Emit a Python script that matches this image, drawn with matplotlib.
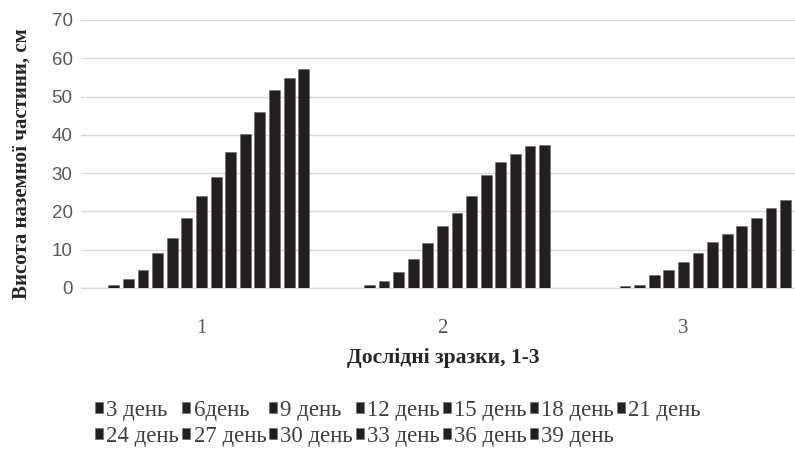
import matplotlib
matplotlib.use("Agg")
import matplotlib.pyplot as plt
import numpy as np

categories = ["1", "2", "3"]
series_labels = ["_s0", "_s1", "3 день", "6день", "9 день", "12 день", "15 день",
                 "18 день", "21 день", "24 день", "27 день", "30 день", "33 день",
                 "36 день", "39 день"]
sample1 = [0, 0.9, 2.3, 4.8, 9.1, 13.0, 18.3, 24.1, 28.9, 35.6, 40.3, 46.1, 51.8, 54.9, 57.1]
sample2 = [0, 0, 0.8, 1.8, 4.3, 7.7, 11.7, 16.1, 19.7, 23.9, 29.6, 32.8, 34.9, 37.0, 37.4]
sample3 = [0, 0, 0, 0.45, 0.8, 3.3, 4.8, 6.7, 9.2, 11.9, 14.0, 16.2, 18.3, 20.9, 23.0]
yticks = [0, 10, 20, 30, 40, 50, 60, 70]

plt.rcParams['font.family'] = ['Liberation Serif', 'DejaVu Serif']

W, H = 795, 454
fig = plt.figure(figsize=(W / 100, H / 100), dpi=100)
ax = fig.add_axes([81 / W, 1 - 288 / H, 1 - 81 / W, (288 - 20) / H])

data = np.array([sample1, sample2, sample3])  # groups x series
n = len(series_labels)
slot = 0.0606
bw = 0.045
x = np.arange(1, len(categories) + 1)
handles, labels = [], []
for i in range(n):
    offs = (i - (n - 1) / 2) * slot
    b = ax.bar(x + offs, data[:, i], width=bw, color='#231f20',
               edgecolor='#6a6a6a', linewidth=0.4, label=series_labels[i], zorder=3)
    if not series_labels[i].startswith('_'):
        handles.append(b)
        labels.append(series_labels[i])

ax.set_xlim(0.5, 3.463)
ax.set_ylim(0, 70)
ax.set_yticks(yticks)
ax.set_xticks(x)
ax.set_xticklabels(categories)
ax.yaxis.grid(True, color='#d9d9d9', linewidth=1.0, zorder=0)
ax.set_axisbelow(True)
for s in ax.spines.values():
    s.set_visible(False)
ax.spines['bottom'].set_visible(True)
ax.spines['bottom'].set_color('#d9d9d9')
ax.tick_params(axis='both', length=0, labelcolor='#595959')
ax.tick_params(axis='x', pad=22, labelsize=15)
ax.tick_params(axis='y', pad=6, labelsize=13.5)
for t in ax.get_yticklabels():
    t.set_family(['Liberation Sans', 'DejaVu Sans'])

fig.text(22 / W, 1 - 164 / H, "Висота наземної частини, см", rotation=90,
         ha='center', va='center', fontsize=15, fontweight='bold', color='#262626')
fig.text(443 / W, 1 - 358 / H, "Дослідні зразки, 1-3", ha='center', va='center',
         fontsize=15.5, fontweight='bold', color='#262626')

# row-major ordering for a 7-column legend
ncol = 7
order = []
for j in range(ncol):
    order.append(j)
    if j + ncol < len(handles):
        order.append(j + ncol)
leg = fig.legend([handles[k] for k in order], [labels[k] for k in order],
                 loc='upper left', bbox_to_anchor=(95 / W, 1 - 400 / H), ncol=ncol,
                 frameon=False, fontsize=16.5, handlelength=0.35, handleheight=0.35,
                 handletextpad=0.15, columnspacing=0.12, labelspacing=0.22,
                 borderaxespad=0, borderpad=0)
for t in leg.get_texts():
    t.set_color('#404040')

fig.savefig("out.png", dpi=100)
